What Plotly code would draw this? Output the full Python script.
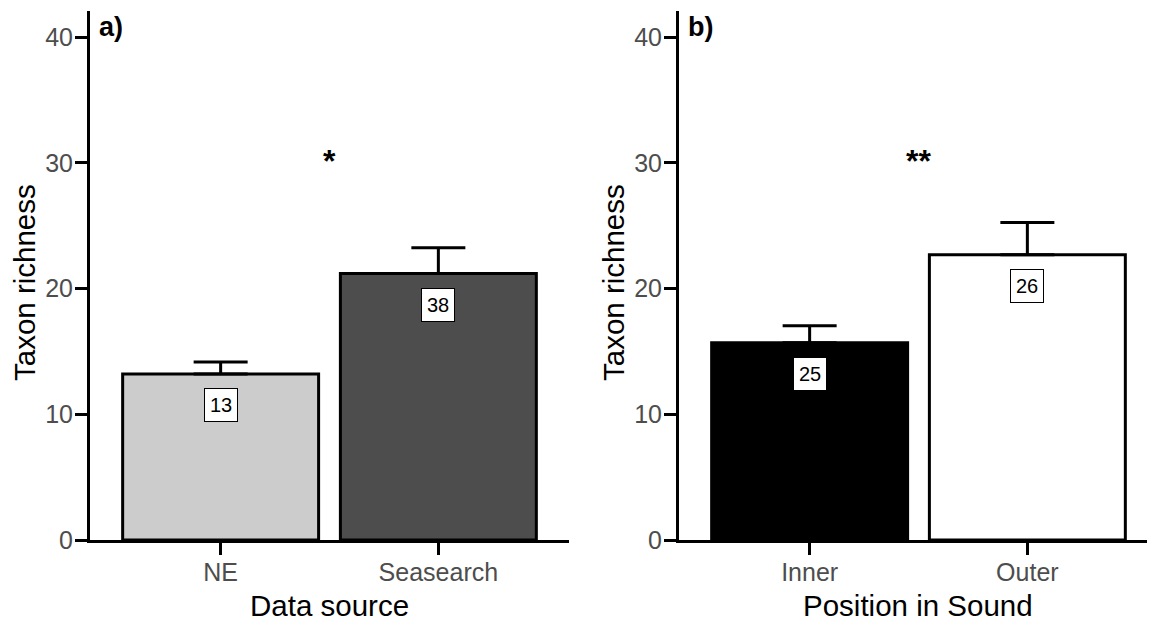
import plotly.graph_objects as go

# Panel a
cats_a = ["NE", "Seasearch"]
mean_a = [13.2, 21.2]
se_a = [0.95, 2.05]
n_a = ["13", "38"]
fill_a = ["#CCCCCC", "#4D4D4D"]

# Panel b
cats_b = ["Inner", "Outer"]
mean_b = [15.7, 22.7]
se_b = [1.35, 2.55]
n_b = ["25", "26"]
fill_b = ["#000000", "#FFFFFF"]

sig_a = "*"
sig_b = "**"
y_ticks = [0, 10, 20, 30, 40]
y_title = "Taxon richness"
x_title_a = "Data source"
x_title_b = "Position in Sound"

FONT = "Liberation Sans, Arial, sans-serif"
# the page body adds an 8px offset; size the figure to fill the window
OX, OY = 8, 8
W, H = 1155 - OX, 624 - OY


def px(x):
    return (x - OX) / W


def py(y):
    return 1 - (y - OY) / H


fig = go.Figure()


def add_bar(cats, means, ses, fills, xa, ya):
    fig.add_trace(go.Bar(
        x=cats, y=means, width=0.9,
        marker=dict(color=fills, line=dict(color="black", width=3)),
        error_y=dict(type="data", symmetric=False, array=ses,
                     arrayminus=[0] * len(ses), thickness=3, width=27,
                     color="black"),
        xaxis=xa, yaxis=ya, showlegend=False, hoverinfo="skip",
    ))


add_bar(cats_a, mean_a, se_a, fill_a, "x", "y")
add_bar(cats_b, mean_b, se_b, fill_b, "x2", "y2")

ydom = [py(540), py(11)]
yrange = [0, 42.08]
unit = (569 - 90) / 2.2
xb_hi = -0.6 + (1155 - 679) / unit

axis_common = dict(showline=True, linewidth=3, linecolor="black",
                   ticks="outside", ticklen=12, tickwidth=3, tickcolor="black",
                   showgrid=False, zeroline=False, automargin=False,
                   tickfont=dict(family=FONT, size=25, color="#4D4D4D"))

fig.update_layout(
    width=W, height=H,
    margin=dict(l=0, r=0, t=0, b=0),
    plot_bgcolor="white", paper_bgcolor="white",
    xaxis=dict(domain=[px(90), px(569)], range=[-0.6, 1.6], type="category",
               anchor="y", ticklabelstandoff=-4, **axis_common),
    yaxis=dict(domain=ydom, range=yrange, tickvals=y_ticks, anchor="x",
               ticklabelstandoff=-3, **axis_common),
    xaxis2=dict(domain=[px(679), 1.0], range=[-0.6, xb_hi], type="category",
                anchor="y2", ticklabelstandoff=-4, **axis_common),
    yaxis2=dict(domain=ydom, range=yrange, tickvals=y_ticks, anchor="x2",
                ticklabelstandoff=-3, **axis_common),
)

annots = []


def panel_annots(xr, yr, means, ns, sig, letter, x_center_px, x_title):
    for i, (m, n) in enumerate(zip(means, ns)):
        annots.append(dict(x=i, y=m - 2.5, xref=xr, yref=yr, text=n,
                           showarrow=False, bgcolor="white",
                           bordercolor="black", borderwidth=1, borderpad=5,
                           font=dict(family=FONT, size=20, color="black")))
    annots.append(dict(x=0.5, y=30.3, xref=xr, yref=yr, text="<b>" + sig + "</b>",
                       showarrow=False, yshift=-2,
                       font=dict(family=FONT, size=32, color="black")))
    annots.append(dict(x=0.014, y=py(27), xref=xr + " domain", yref="paper",
                       text="<b>" + letter + "</b>", showarrow=False,
                       xanchor="left", yanchor="middle",
                       font=dict(family=FONT, size=27, color="black")))
    annots.append(dict(x=px(x_center_px), y=py(605), xref="paper",
                       yref="paper", text=x_title, showarrow=False,
                       xanchor="center", yanchor="middle",
                       font=dict(family=FONT, size=29.5, color="black")))


panel_annots("x", "y", mean_a, n_a, sig_a, "a)", 329.5, x_title_a)
panel_annots("x2", "y2", mean_b, n_b, sig_b, "b)", 918, x_title_b)

for xc in (24, 613):
    annots.append(dict(x=px(xc), y=py(283), xref="paper", yref="paper",
                       text=y_title, showarrow=False, textangle=-90,
                       xanchor="center", yanchor="middle",
                       font=dict(family=FONT, size=29.5, color="black")))

fig.update_layout(annotations=annots)
fig.write_html("out.html")
